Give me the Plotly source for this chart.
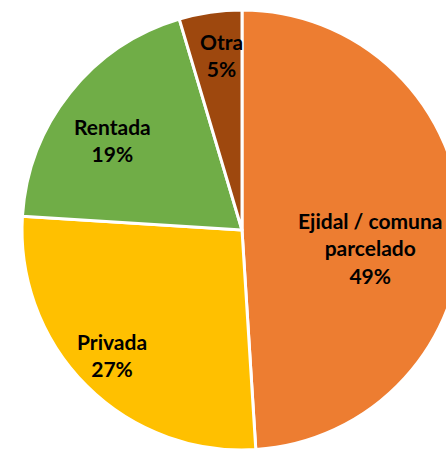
import math
import plotly.graph_objects as go

# ---- data ----
labels = ["Ejidal / comuna<br>parcelado", "Privada", "Rentada", "Otra"]
values = [49.0, 27.0, 19.4, 4.6]
pct_text = ["49%", "27%", "19%", "5%"]

# ---- style ----
colors = ["#ED7D31", "#FFC000", "#70AD47", "#9E480E"]
label_rfrac = [0.588, 0.82, 0.717, 0.80]      # radial position of label (fraction of radius)
label_angle_offset = [9.8, 1.1, -3.9, 1.6]   # degrees offset from slice mid-angle

W, H = 470, 470
CX, CY, R = 242, 230, 220  # pixel geometry of pie

fig = go.Figure(go.Pie(
    labels=labels,
    values=values,
    sort=False,
    direction="clockwise",
    rotation=0,
    marker=dict(colors=colors, line=dict(color="white", width=3)),
    textinfo="none",
    hoverinfo="label+percent",
    showlegend=False,
    domain=dict(x=[(CX - R) / W, (CX + R) / W], y=[1 - (CY + R) / H, 1 - (CY - R) / H]),
))

total = sum(values)
cum = 0
for i, v in enumerate(values):
    mid = (cum + v / 2) / total * 360 + label_angle_offset[i]
    cum += v
    rr = label_rfrac[i] * R
    px = CX + rr * math.sin(math.radians(mid))
    py = CY - rr * math.cos(math.radians(mid))
    fig.add_annotation(
        x=px / W, y=1 - py / H, xref="paper", yref="paper",
        text=labels[i] + "<br>" + pct_text[i],
        showarrow=False, xanchor="center", yanchor="middle",
        font=dict(family="Lato", size=21, color="black", weight="bold"),
    )

fig.update_layout(
    width=W, height=H,
    margin=dict(l=0, r=0, t=0, b=0),
    paper_bgcolor="white", plot_bgcolor="white",
)

fig.write_html(
    "out.html",
    config={"displayModeBar": False},
    post_script="document.documentElement.style.overflow='hidden';document.body.style.margin='0';document.body.style.overflow='hidden';",
)
